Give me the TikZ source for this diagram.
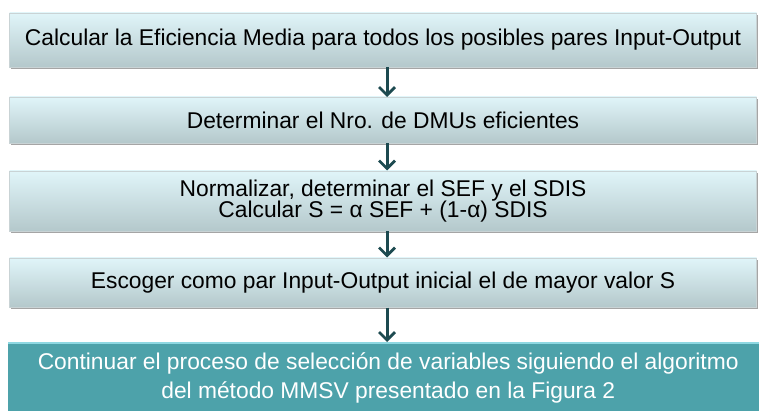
\documentclass[tikz,border=0pt]{standalone}
\usepackage{fontspec}
\setmainfont{Liberation Sans}
\usetikzlibrary{arrows.meta,shadows}
\definecolor{boxtop}{HTML}{E0F5F9}
\definecolor{boxbot}{HTML}{B4C8CB}
\definecolor{boxedge}{HTML}{C9D3D5}
\definecolor{arrowc}{HTML}{1D4A50}
\definecolor{tealbox}{HTML}{4DA2AA}
\definecolor{tealedge}{HTML}{8ED8E2}
\tikzset{
  stepbox/.style={rectangle, draw=boxedge, line width=0.8pt, top color=boxtop, bottom color=boxbot,
    minimum width=747pt, inner sep=0pt, align=center, font=\fontsize{22.8}{21.5}\selectfont, text=black,
    drop shadow={shadow xshift=1.2pt, shadow yshift=-1.8pt, opacity=0.5, fill=black!70}},
  lastbox/.style={rectangle, fill=tealbox, draw=none, minimum width=760pt, inner sep=0pt, align=center,
    font=\fontsize{22.8}{28.5}\selectfont, text=white},
  flow/.style={draw=arrowc, line width=3pt, -{Straight Barb[length=8pt,width=16pt,line width=2.8pt]}}
}
\begin{document}
\begin{tikzpicture}[x=1pt,y=1pt]
\useasboundingbox (0,0) rectangle (759,-411);
\fill[white] (0,0) rectangle (759,-411);
\node[stepbox, minimum height=54pt] (b1) at (383,-40) {Calcular la Eficiencia Media para todos los posibles pares Input-Output};
\node[stepbox, minimum height=46pt] (b2) at (383,-120) {Determinar el Nro. de DMUs eficientes};
\node[stepbox, minimum height=60pt] (b3) at (383,-201) {Normalizar, determinar el SEF y el SDIS\\Calcular S = α SEF + (1-α) SDIS};
\node[stepbox, minimum height=49pt] (b4) at (383,-282.5) {Escoger como par Input-Output inicial el de mayor valor S};
\node[lastbox, minimum height=70pt, anchor=north west] (b5) at (8,-343) {Continuar el proceso de selección de variables siguiendo el algoritmo\\del método MMSV presentado en la Figura 2};
\draw[tealedge, line width=1.5pt] (b5.north west) -- (b5.north east);
\draw[flow] (387,-67.5) -- (387,-97);
\draw[flow] (387,-143.5) -- (387,-170.5);
\draw[flow] (387,-231.5) -- (387,-257.5);
\draw[flow] (387,-307.5) -- (387,-342);
\end{tikzpicture}
\end{document}
